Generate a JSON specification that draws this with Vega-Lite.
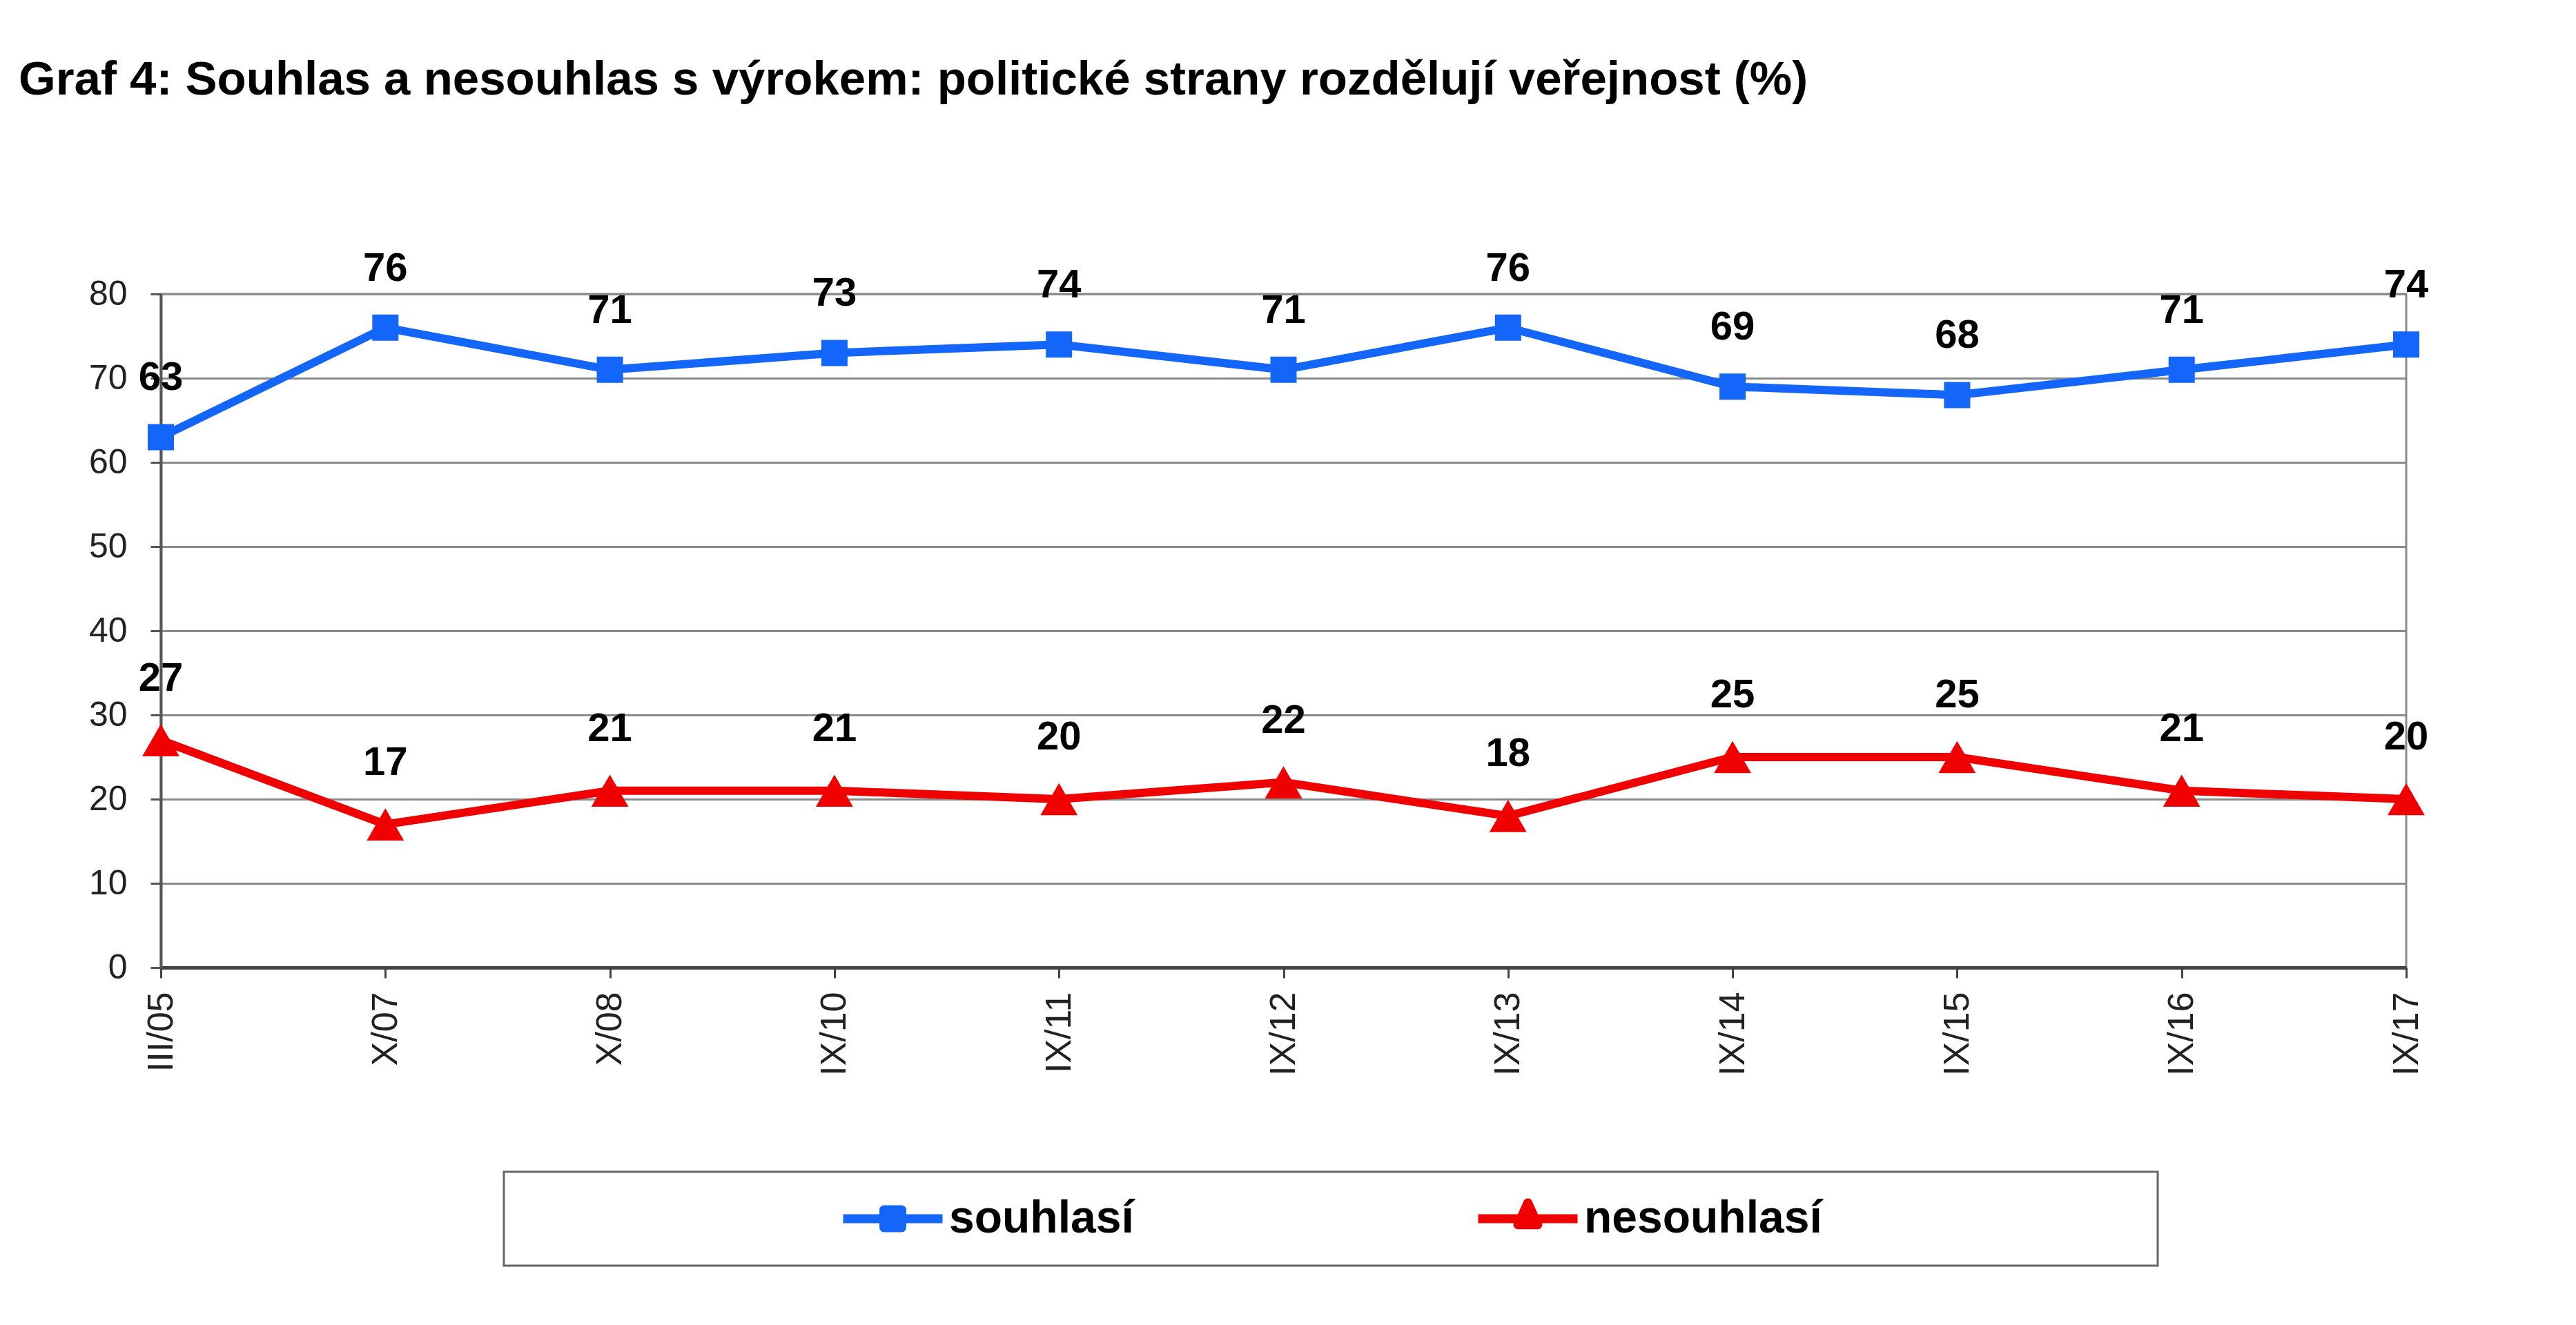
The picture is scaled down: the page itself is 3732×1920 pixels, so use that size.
{
  "$schema": "https://vega.github.io/schema/vega-lite/v6.json",
  "width": 3253,
  "height": 976,
  "autosize": {"type": "none"},
  "padding": {"left": 233, "top": 426, "right": 246, "bottom": 518},
  "background": "white",
  "title": {
    "text": "Graf 4: Souhlas a nesouhlas s výrokem: politické strany rozdělují veřejnost (%)",
    "anchor": "start",
    "frame": "group",
    "dx": -206,
    "offset": 210,
    "font": "Liberation Sans",
    "fontSize": 69,
    "fontWeight": "bold",
    "color": "#000000"
  },
  "config": {
    "view": {"stroke": "#8a8a8a", "strokeWidth": 3},
    "font": "Liberation Sans"
  },
  "data": {
    "values": [
      {"period": "III/05", "series": "souhlasí", "value": 63},
      {"period": "X/07", "series": "souhlasí", "value": 76},
      {"period": "X/08", "series": "souhlasí", "value": 71},
      {"period": "IX/10", "series": "souhlasí", "value": 73},
      {"period": "IX/11", "series": "souhlasí", "value": 74},
      {"period": "IX/12", "series": "souhlasí", "value": 71},
      {"period": "IX/13", "series": "souhlasí", "value": 76},
      {"period": "IX/14", "series": "souhlasí", "value": 69},
      {"period": "IX/15", "series": "souhlasí", "value": 68},
      {"period": "IX/16", "series": "souhlasí", "value": 71},
      {"period": "IX/17", "series": "souhlasí", "value": 74},
      {"period": "III/05", "series": "nesouhlasí", "value": 27},
      {"period": "X/07", "series": "nesouhlasí", "value": 17},
      {"period": "X/08", "series": "nesouhlasí", "value": 21},
      {"period": "IX/10", "series": "nesouhlasí", "value": 21},
      {"period": "IX/11", "series": "nesouhlasí", "value": 20},
      {"period": "IX/12", "series": "nesouhlasí", "value": 22},
      {"period": "IX/13", "series": "nesouhlasí", "value": 18},
      {"period": "IX/14", "series": "nesouhlasí", "value": 25},
      {"period": "IX/15", "series": "nesouhlasí", "value": 25},
      {"period": "IX/16", "series": "nesouhlasí", "value": 21},
      {"period": "IX/17", "series": "nesouhlasí", "value": 20}
    ]
  },
  "encoding": {
    "x": {
      "field": "period",
      "type": "ordinal",
      "sort": null,
      "scale": {"type": "point", "padding": 0},
      "axis": {
        "title": null,
        "labelAngle": -90,
        "labelAlign": "right",
        "labelBaseline": "middle",
        "labelFontSize": 52,
        "labelFont": "Liberation Sans",
        "labelColor": "#222222",
        "labelPadding": 20,
        "tickSize": 15,
        "tickColor": "#444444",
        "tickWidth": 3,
        "domainColor": "#444444",
        "domainWidth": 5,
        "grid": false
      }
    },
    "y": {
      "field": "value",
      "type": "quantitative",
      "scale": {"domain": [0, 80]},
      "axis": {
        "title": null,
        "values": [0, 10, 20, 30, 40, 50, 60, 70, 80],
        "grid": true,
        "gridColor": "#8a8a8a",
        "gridWidth": 3,
        "domainColor": "#555555",
        "domainWidth": 4,
        "tickColor": "#555555",
        "tickWidth": 3,
        "tickSize": 15,
        "labelFontSize": 50,
        "labelFont": "Liberation Sans",
        "labelColor": "#222222",
        "labelPadding": 34
      }
    }
  },
  "layer": [
    {
      "mark": {"type": "line", "strokeWidth": 12},
      "encoding": {
        "color": {
          "field": "series",
          "type": "nominal",
          "scale": {"domain": ["souhlasí", "nesouhlasí"], "range": ["#1466FA", "#F00000"]},
          "legend": {
            "orient": "none",
            "legendX": 497,
            "legendY": 1272,
            "direction": "horizontal",
            "columns": 2,
            "title": "\u00a0",
            "titleOrient": "left",
            "titleFontSize": 10,
            "titlePadding": 450,
            "padding": 35,
            "strokeColor": "#666666",
            "fillColor": "#ffffff",
            "labelFont": "Liberation Sans",
            "labelFontSize": 66,
            "labelFontWeight": "bold",
            "labelColor": "#000000",
            "labelOffset": 3,
            "labelLimit": 3000,
            "columnPadding": 492,
            "symbolSize": 20736,
            "symbolStrokeWidth": 13,
            "clipHeight": 66,
            "labelExpr": "datum.value == 'nesouhlasí' ? datum.label + '\u00a0\u2800\u2800\u2800\u2800\u2800\u2800\u2800\u2800\u2800' : datum.label",
            "encode": {
              "legend": {"update": {"strokeWidth": {"value": 3}}},
              "symbols": {
                "update": {
                  "shape": {"signal": "datum.value == 'souhlasí' ? 'M-1,0H1M-0.18,-0.18H0.18V0.18H-0.18Z' : 'M-1,0H1M0,-0.32L-0.2,0.12H0.2Z'"},
                  "fill": {"signal": "datum.value == 'souhlasí' ? '#1466FA' : '#F00000'"},
                  "stroke": {"signal": "datum.value == 'souhlasí' ? '#1466FA' : '#F00000'"},
                  "strokeWidth": {"value": 13},
                  "strokeJoin": {"value": "round"},
                  "opacity": {"value": 1}
                }
              }
            }
          }
        }
      }
    },
    {
      "transform": [{"filter": "datum.series == 'souhlasí'"}],
      "mark": {"type": "point", "filled": true, "opacity": 1, "strokeWidth": 0, "shape": "square", "size": 1444, "color": "#1466FA"}
    },
    {
      "transform": [{"filter": "datum.series == 'nesouhlasí'"}],
      "mark": {"type": "point", "filled": true, "opacity": 1, "strokeWidth": 0, "shape": "triangle-up", "size": 2900, "color": "#F00000"}
    },
    {
      "transform": [{"filter": "datum.series == 'souhlasí'"}],
      "mark": {"type": "text", "dy": -85, "fontSize": 58, "fontWeight": "bold", "color": "#000000", "baseline": "middle", "font": "Liberation Sans"},
      "encoding": {"text": {"field": "value", "type": "quantitative"}}
    },
    {
      "transform": [{"filter": "datum.series == 'nesouhlasí'"}],
      "mark": {"type": "text", "dy": -89, "fontSize": 58, "fontWeight": "bold", "color": "#000000", "baseline": "middle", "font": "Liberation Sans"},
      "encoding": {"text": {"field": "value", "type": "quantitative"}}
    }
  ]
}
